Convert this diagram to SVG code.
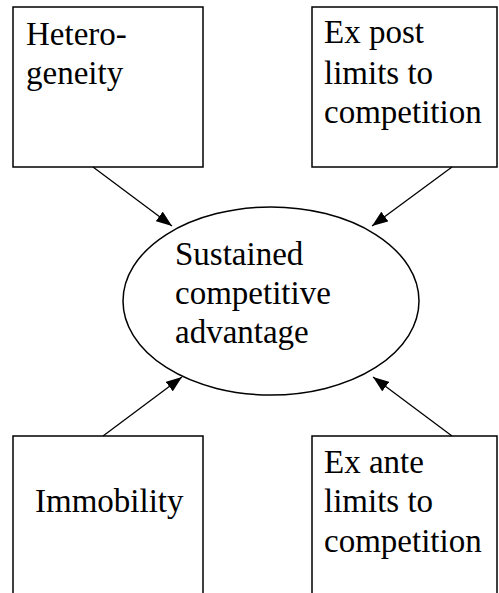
<svg xmlns="http://www.w3.org/2000/svg" width="499" height="593" viewBox="0 0 499 593">
<style>
.box{fill:#fff;stroke:#000;stroke-width:1.5}
text{font-family:'Liberation Serif','Times New Roman',serif;font-size:33px;fill:#000}
.c{stroke:#000;stroke-width:1.3;fill:none}
</style>
<defs>
<marker id="ah" viewBox="0 0 16 12" refX="16" refY="6" markerWidth="16" markerHeight="12" markerUnits="userSpaceOnUse" orient="auto">
<path d="M0,0 L16,6 L0,12 Z" fill="#000"/>
</marker>
</defs>
<rect width="499" height="593" fill="#fff"/>
<g id="heterogeneity">
<rect class="box" x="13" y="7" width="190" height="160"/>
<text x="26" y="45">Hetero-</text>
<text x="26" y="84">geneity</text>
</g>
<g id="expost">
<rect class="box" x="312" y="7" width="185" height="160"/>
<text x="324" y="43">Ex post</text>
<text x="324" y="84">limits to</text>
<text x="324" y="123">competition</text>
</g>
<g id="immobility">
<path class="box" d="M13,600 L13,436 L203,436 L203,600"/>
<text x="35" y="512">Immobility</text>
</g>
<g id="exante">
<path class="box" d="M312,600 L312,436 L497,436 L497,600"/>
<text x="324" y="473">Ex ante</text>
<text x="324" y="512">limits to</text>
<text x="324" y="552">competition</text>
</g>
<g id="sca">
<ellipse class="box" cx="271" cy="301" rx="148" ry="94"/>
<text x="175" y="265">Sustained</text>
<text x="175" y="304">competitive</text>
<text x="175" y="343">advantage</text>
</g>
<g id="connectors">
<line class="c" x1="93" y1="167" x2="172" y2="226" marker-end="url(#ah)"/>
<line class="c" x1="452" y1="167" x2="372" y2="226" marker-end="url(#ah)"/>
<line class="c" x1="103" y1="436" x2="182" y2="377" marker-end="url(#ah)"/>
<line class="c" x1="452" y1="436" x2="373" y2="377" marker-end="url(#ah)"/>
</g>
</svg>
